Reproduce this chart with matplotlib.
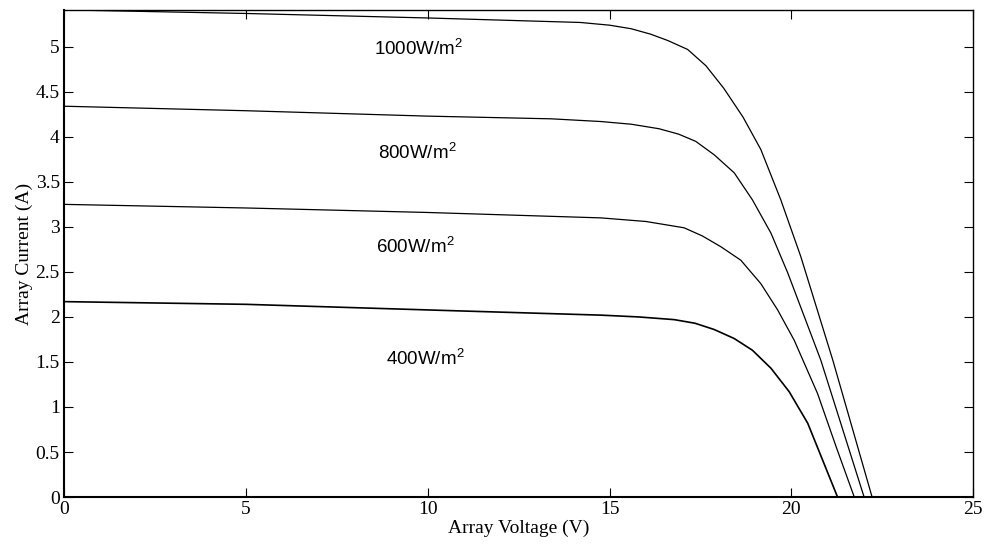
#!/usr/bin/env python3
import matplotlib
matplotlib.use("Agg")
from matplotlib import pyplot as plt

# I-V curves (voltage V, current A)
v1000 = [0, 5, 10, 14.2, 15.0, 15.6, 16.13, 16.6, 17.15, 17.65, 18.14, 18.67, 19.16, 19.71, 20.26, 21.14, 22.22]
i1000 = [5.41, 5.37, 5.32, 5.27, 5.24, 5.20, 5.14, 5.07, 4.97, 4.79, 4.54, 4.22, 3.86, 3.30, 2.67, 1.52, 0]

v800 = [0, 5, 10, 13.4, 14.76, 15.6, 16.36, 16.9, 17.37, 17.88, 18.43, 18.93, 19.44, 19.90, 20.81, 22.0]
i800 = [4.34, 4.29, 4.23, 4.20, 4.17, 4.14, 4.09, 4.03, 3.95, 3.80, 3.60, 3.30, 2.93, 2.49, 1.52, 0]

v600 = [0, 5, 10, 14.76, 16.0, 17.05, 17.55, 18.06, 18.61, 19.16, 19.62, 20.08, 20.72, 21.23, 21.73]
i600 = [3.25, 3.21, 3.16, 3.10, 3.06, 2.99, 2.90, 2.78, 2.63, 2.37, 2.08, 1.74, 1.15, 0.56, 0]

v400 = [0, 5, 10.63, 14.76, 15.8, 16.78, 17.35, 17.88, 18.43, 18.93, 19.44, 19.94, 20.45, 21.27]
i400 = [2.17, 2.14, 2.07, 2.02, 2.00, 1.97, 1.93, 1.86, 1.76, 1.63, 1.43, 1.17, 0.82, 0]

labels = ["1000W/m$^\\mathrm{2}$", "800W/m$^\\mathrm{2}$", "600W/m$^\\mathrm{2}$", "400W/m$^\\mathrm{2}$"]
label_v = [9.76, 9.71, 9.66, 9.94]
label_i = [4.98, 3.82, 2.78, 1.54]

xticks = [0, 5, 10, 15, 20, 25]
yticks = [0, 0.5, 1, 1.5, 2, 2.5, 3, 3.5, 4, 4.5, 5]

plt.rcParams["mathtext.fontset"] = "custom"
plt.rcParams["mathtext.rm"] = "Liberation Sans"

fig = plt.figure(figsize=(9.85, 5.48), dpi=100)
ax = fig.add_axes([0.065, 0.093, 0.923, 0.889])

ax.plot(v1000, i1000, color="black", lw=0.9)
ax.plot(v800, i800, color="black", lw=0.9)
ax.plot(v600, i600, color="black", lw=0.9)
ax.plot(v400, i400, color="black", lw=1.2)

for txt, x, y in zip(labels, label_v, label_i):
    ax.text(x, y, txt, ha="center", va="center", fontsize=13.5, family="Liberation Sans")

ax.set_xlim(0, 25)
ax.set_ylim(0, 5.41)
ax.set_xticks(xticks)
ax.set_yticks(yticks)
ax.set_xticklabels([str(t) for t in xticks], family="Liberation Serif", fontsize=14)
ax.set_yticklabels(["0", "0.5", "1", "1.5", "2", "2.5", "3", "3.5", "4", "4.5", "5"],
                   family="Liberation Serif", fontsize=14)
ax.tick_params(direction="in", length=6.5, width=0.8, top=True, right=True, pad=3)
for s in ax.spines.values():
    s.set_linewidth(1.0)
ax.spines["left"].set_linewidth(1.5)
ax.spines["bottom"].set_linewidth(1.5)

ax.set_xlabel("Array Voltage (V)", family="Liberation Serif", fontsize=14, labelpad=1)
ax.set_ylabel("Array Current (A)", family="Liberation Serif", fontsize=14, labelpad=2)

fig.savefig("out.png", dpi=100)
